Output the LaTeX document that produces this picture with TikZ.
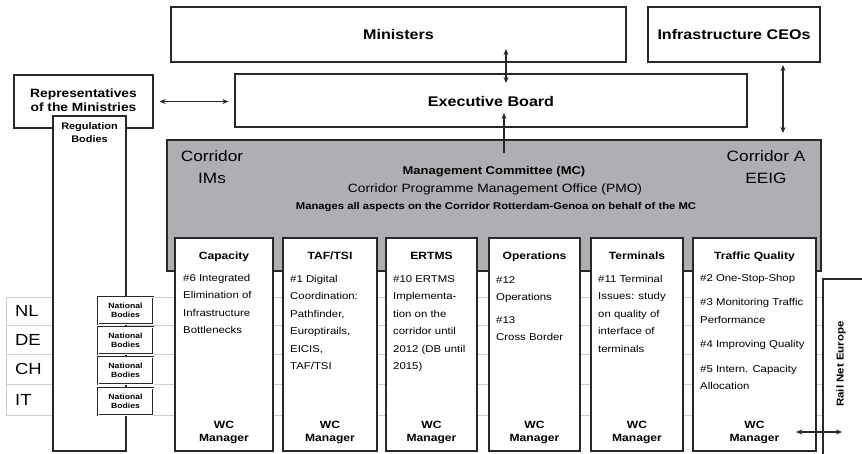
\documentclass[tikz,border=0pt]{standalone}
\usepackage{fontspec}
\setmainfont[FakeStretch=1.15]{Liberation Sans}
\usetikzlibrary{arrows.meta}
\definecolor{mcgray}{RGB}{174,174,179}
\definecolor{edge}{RGB}{40,40,40}
\definecolor{rowline}{RGB}{205,205,205}
\begin{document}
\begin{tikzpicture}[x=1pt,y=-1pt,
  box/.style={draw=edge, line width=1.2pt, fill=white, inner sep=0pt},
  bigtitle/.style={font=\fontsize{14}{16}\selectfont\bfseries, inner sep=0pt},
  wgtitle/.style={font=\fontsize{10.5}{12}\selectfont\bfseries, anchor=base, inner sep=0pt},
  wgtext/.style={font=\fontsize{9.9}{17.5}\selectfont, align=left, anchor=north west, inner sep=0pt},
  wcm/.style={font=\fontsize{10.5}{13}\selectfont\bfseries, align=center, anchor=south, inner sep=0pt},
  nat/.style={draw=edge, double=white, double distance=1pt, line width=0.9pt, fill=white, inner sep=0pt,
     minimum width=55pt, minimum height=27pt, align=center, font=\fontsize{7.5}{8.5}\selectfont\bfseries},
  ctry/.style={font=\fontsize{16}{17}\selectfont, anchor=west, inner sep=0pt},
  biarrow/.style={{Stealth[length=6pt,width=5pt]}-{Stealth[length=6pt,width=5pt]}, draw=edge, line width=1.3pt},
  uparrow/.style={-{Stealth[length=6pt,width=5pt]}, draw=edge, line width=1.3pt}]
\useasboundingbox (0,0) rectangle (862,453);
\clip (0,0) rectangle (862,453);

% country row lines
\foreach \yy in {297,325,354,384,415} \draw[rowline, line width=0.8pt] (6,\yy) -- (822,\yy);
\draw[rowline, line width=0.8pt] (6,297) -- (6,415);
\node[ctry] (nl) at (15,311) {NL};
\node[ctry] (de) at (15,340) {DE};
\node[ctry] (ch) at (15,369) {CH};
\node[ctry] (it) at (15,400) {IT};

% top boxes
\node[box, minimum width=455pt, minimum height=55pt] (min) at (398.5,34.5) {};
\node[bigtitle] at (min.center) {Ministers};
\node[box, minimum width=172pt, minimum height=55pt] (ceo) at (734,34.5) {};
\node[bigtitle] at (ceo.center) {Infrastructure CEOs};
\node[box, minimum width=512pt, minimum height=53pt] (exe) at (491,100.5) {};
\node[bigtitle] at (491,101) {Executive Board};
\node[box, minimum width=139pt, minimum height=53pt] (rep) at (83.5,101.5) {};
\node[font=\fontsize{12}{14}\selectfont\bfseries, align=center, inner sep=0pt] at (83.5,100) {Representatives\\of the Ministries};

% regulation bodies
\node[box, minimum width=73pt, minimum height=335pt] (reg) at (89.5,283.5) {};
\node[font=\fontsize{9.5}{13.5}\selectfont\bfseries, align=center, anchor=north, inner sep=0pt] at (89.5,122) {Regulation\\Bodies};

% management committee
\node[draw=edge, line width=1.2pt, fill=mcgray, minimum width=654pt, minimum height=131pt, inner sep=0pt] (mc) at (494,205.5) {};
\node[font=\fontsize{15}{22}\selectfont, align=center, inner sep=0pt] at (212,167.5) {Corridor\\IMs};
\node[font=\fontsize{15}{22}\selectfont, align=center, inner sep=0pt] at (766,167.5) {Corridor A\\EEIG};
\node[font=\fontsize{11.3}{12}\selectfont\bfseries, inner sep=0pt] (mct) at (494,172) {Management Committee (MC)};
\node[font=\fontsize{12}{13}\selectfont, inner sep=0pt] (pmo) at (495,189) {Corridor Programme Management Office (PMO)};
\node[font=\fontsize{9.8}{11}\selectfont\bfseries, inner sep=0pt] (mgs) at (496,207) {Manages all aspects on the Corridor Rotterdam-Genoa on behalf of the MC};

% working groups
\node[box, minimum width=98pt, minimum height=213pt] (cap) at (224,344.5) {};
\node[wgtitle] at (224,259) {Capacity};
\node[wgtext] at (183,274) {\#6 Integrated\\Elimination of\\Infrastructure\\Bottlenecks};
\node[wcm] at (224,444) {WC\\Manager};

\node[box, minimum width=94pt, minimum height=213pt] (taf) at (330,344.5) {};
\node[wgtitle] at (330,259) {TAF/TSI};
\node[wgtext] at (290,275) {\#1 Digital\\Coordination:\\Pathfinder,\\Europtirails,\\EICIS,\\TAF/TSI};
\node[wcm] at (330,444) {WC\\Manager};

\node[box, minimum width=91pt, minimum height=213pt] (ert) at (431.5,344.5) {};
\node[wgtitle] at (431.5,259) {ERTMS};
\node[wgtext] at (393,275) {\#10 ERTMS\\Implementa-\\tion on the\\corridor until\\2012 (DB until\\2015)};
\node[wcm] at (431.5,444) {WC\\Manager};

\node[box, minimum width=91pt, minimum height=213pt] (ops) at (534.5,344.5) {};
\node[wgtitle] at (534.5,259) {Operations};
\node[wgtext] at (496,276) {\#12\\Operations\\[5pt]\#13\\Cross Border};
\node[wcm] at (534.5,444) {WC\\Manager};

\node[box, minimum width=92pt, minimum height=213pt] (ter) at (637,344.5) {};
\node[wgtitle] at (637,259) {Terminals};
\node[wgtext] at (598,275) {\#11 Terminal\\Issues: study\\on quality of\\interface of\\terminals};
\node[wcm] at (637,444) {WC\\Manager};

\node[box, minimum width=123pt, minimum height=213pt] (tra) at (754.5,344.5) {};
\node[wgtitle] at (754.5,259) {Traffic Quality};
\node[wgtext] at (700,274) {\#2 One-Stop-Shop\\[7pt]\#3 Monitoring Traffic\\Performance\\[7pt]\#4 Improving Quality\\[7pt]\#5 Intern. Capacity\\Allocation};
\node[wcm] at (754.5,444) {WC\\Manager};

% national bodies
\node[nat] (nb1) at (125.5,310.5) {National\\Bodies};
\node[nat] (nb2) at (125.5,340.5) {National\\Bodies};
\node[nat] (nb3) at (125.5,370.5) {National\\Bodies};
\node[nat] (nb4) at (125.5,401.5) {National\\Bodies};

% rail net europe
\node[box, minimum width=60pt, minimum height=180pt] (rne) at (853,369) {};
\node[rotate=90, font=\fontsize{10}{12}\selectfont\bfseries, inner sep=0pt] at (841,364) {Rail Net Europe};

% connectors
\coordinate (a1) at (506,49);
\coordinate (a2) at (506,83);
\draw[biarrow] (a1) -- (a2);
\coordinate (b1) at (504,153);
\coordinate (b2) at (504,113);
\draw[uparrow] (b1) -- (b2);
\coordinate (c1) at (783,65);
\coordinate (c2) at (783,133);
\draw[biarrow] (c1) -- (c2);
\draw[biarrow] (rep.east) ++(6,0) coordinate (d1) -- ([xshift=-6pt]exe.west |- d1);
\coordinate (e1) at (796,432);
\coordinate (e2) at (842,432);
\draw[biarrow] (e1) -- (e2);
\end{tikzpicture}
\end{document}
